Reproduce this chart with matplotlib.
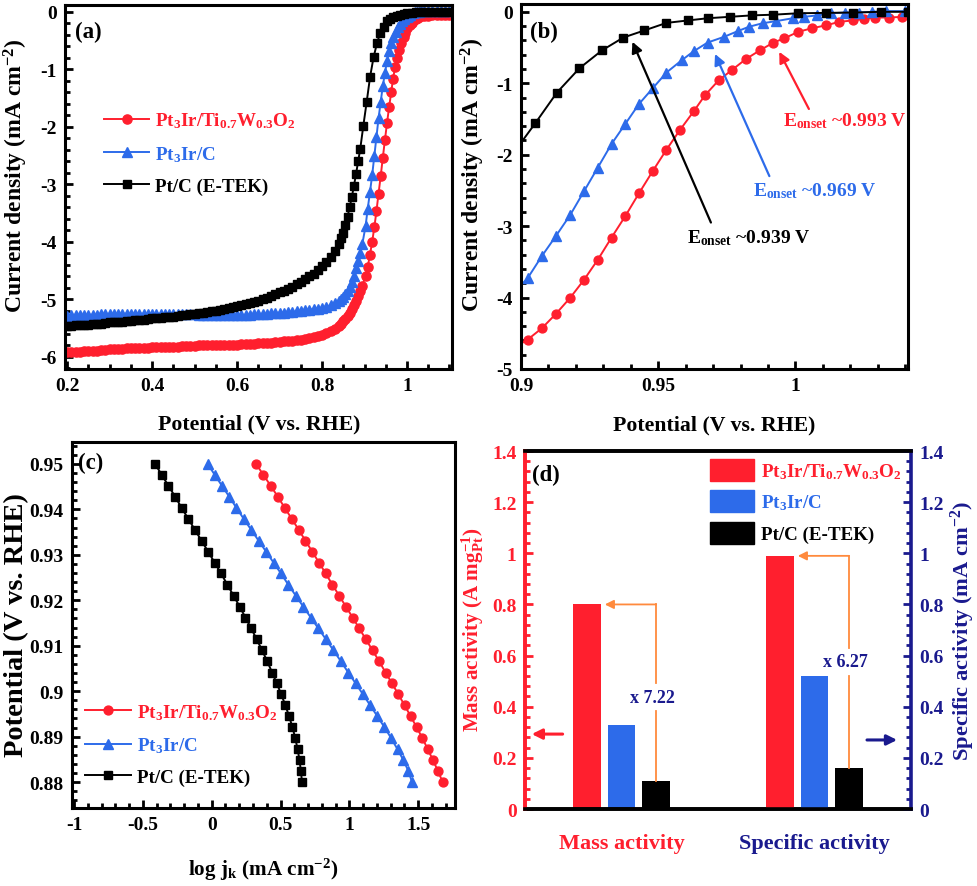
import matplotlib
matplotlib.use('Agg')
import matplotlib.pyplot as plt
from matplotlib.ticker import MultipleLocator, FuncFormatter
from matplotlib.patches import Patch

plt.rcParams.update({
    'font.family': ['Liberation Serif', 'DejaVu Serif'],
    'font.weight': 'bold',
    'axes.labelweight': 'bold',
    'mathtext.fontset': 'custom',
    'mathtext.rm': 'Liberation Serif:bold',
    'mathtext.it': 'Liberation Serif:bold',
    'mathtext.bf': 'Liberation Serif:bold',
    'axes.unicode_minus': False,
})

# ---------------- data ----------------
series_names = ['Pt$_3$Ir/Ti$_{0.7}$W$_{0.3}$O$_2$', 'Pt$_3$Ir/C', 'Pt/C (E-TEK)']

# LSV, low-potential region (shared potentials, V vs RHE)
E_low = [0.20, 0.21, 0.22, 0.23, 0.24, 0.25, 0.26, 0.27, 0.28, 0.29,
         0.30, 0.31, 0.32, 0.33, 0.34, 0.35, 0.36, 0.37, 0.38, 0.39,
         0.40, 0.41, 0.42, 0.43, 0.44, 0.45, 0.46, 0.47, 0.48, 0.49,
         0.50, 0.51, 0.52, 0.53, 0.54, 0.55, 0.56, 0.57, 0.58, 0.59,
         0.60, 0.61, 0.62, 0.63, 0.64, 0.65, 0.66, 0.67, 0.68, 0.69,
         0.70, 0.71, 0.72, 0.73, 0.74, 0.75, 0.76, 0.77, 0.78, 0.79,
         0.80, 0.81, 0.82, 0.83, 0.84, 0.845, 0.85, 0.855, 0.86, 0.865,
         0.87, 0.875, 0.88, 0.885, 0.89]
j_red_low = [-5.92, -5.92, -5.91, -5.91, -5.90, -5.90, -5.89, -5.89, -5.88, -5.88,
             -5.87, -5.87, -5.86, -5.86, -5.85, -5.85, -5.85, -5.84, -5.84, -5.84,
             -5.83, -5.83, -5.83, -5.82, -5.82, -5.82, -5.82, -5.81, -5.81, -5.81,
             -5.81, -5.80, -5.80, -5.80, -5.80, -5.80, -5.80, -5.79, -5.79, -5.79,
             -5.79, -5.78, -5.78, -5.77, -5.77, -5.76, -5.76, -5.75, -5.75, -5.74,
             -5.74, -5.73, -5.73, -5.72, -5.71, -5.70, -5.69, -5.68, -5.66, -5.64,
             -5.62, -5.59, -5.55, -5.51, -5.46, -5.42, -5.38, -5.34, -5.29, -5.23,
             -5.16, -5.09, -5.02, -4.94, -4.85]
j_blue_low = [-5.29, -5.28, -5.28, -5.28, -5.27, -5.27, -5.27, -5.27, -5.26, -5.26,
              -5.26, -5.26, -5.26, -5.25, -5.25, -5.25, -5.25, -5.25, -5.25, -5.25,
              -5.25, -5.25, -5.25, -5.25, -5.25, -5.26, -5.26, -5.26, -5.26, -5.26,
              -5.26, -5.27, -5.27, -5.27, -5.27, -5.28, -5.28, -5.28, -5.28, -5.28,
              -5.28, -5.28, -5.27, -5.27, -5.26, -5.26, -5.25, -5.25, -5.24, -5.24,
              -5.23, -5.23, -5.22, -5.22, -5.21, -5.20, -5.19, -5.18, -5.17, -5.16,
              -5.15, -5.13, -5.10, -5.07, -5.02, -4.99, -4.95, -4.91, -4.86, -4.79,
              -4.70, -4.59, -4.46, -4.33, -4.19]
j_black_low = [-5.46, -5.46, -5.45, -5.45, -5.44, -5.44, -5.43, -5.43, -5.42, -5.41,
               -5.40, -5.40, -5.39, -5.39, -5.38, -5.37, -5.36, -5.36, -5.35, -5.34,
               -5.33, -5.33, -5.32, -5.31, -5.30, -5.30, -5.29, -5.28, -5.27, -5.26,
               -5.25, -5.24, -5.23, -5.22, -5.21, -5.20, -5.18, -5.17, -5.15, -5.13,
               -5.11, -5.10, -5.08, -5.06, -5.04, -5.02, -4.99, -4.97, -4.94, -4.91,
               -4.88, -4.85, -4.82, -4.78, -4.74, -4.70, -4.65, -4.60, -4.55, -4.49,
               -4.42, -4.35, -4.26, -4.16, -4.03, -3.94, -3.84, -3.71, -3.56, -3.40,
               -3.22, -3.03, -2.82, -2.60, -2.38]

# LSV, onset region (as sampled in panel b)
E_red_mid = [0.895, 0.9024, 0.9076, 0.9127, 0.918, 0.923, 0.928, 0.933, 0.938, 0.943,
             0.948, 0.953, 0.958, 0.963, 0.967, 0.972, 0.977, 0.982, 0.987, 0.992,
             0.996, 1.001, 1.006, 1.011, 1.016, 1.021, 1.025, 1.029, 1.034, 1.039]
j_red_mid = [-4.76, -4.59, -4.43, -4.23, -4.00, -3.75, -3.47, -3.16, -2.86, -2.54,
             -2.23, -1.93, -1.65, -1.39, -1.17, -0.96, -0.81, -0.66, -0.54, -0.43,
             -0.37, -0.28, -0.23, -0.19, -0.14, -0.12, -0.10, -0.08, -0.08, -0.07]
E_blue_mid = [0.895, 0.9024, 0.9076, 0.9127, 0.918, 0.923, 0.928, 0.933, 0.938, 0.943,
              0.948, 0.953, 0.9585, 0.963, 0.968, 0.974, 0.979, 0.983, 0.988, 0.993,
              0.999, 1.003, 1.008, 1.013, 1.018, 1.023, 1.028, 1.033, 1.040]
j_blue_mid = [-4.03, -3.73, -3.42, -3.14, -2.84, -2.51, -2.18, -1.85, -1.57, -1.29,
              -1.07, -0.85, -0.68, -0.55, -0.43, -0.35, -0.27, -0.21, -0.16, -0.13,
              -0.09, -0.07, -0.05, -0.02, -0.01, -0.01, 0.00, 0.01, 0.01]
E_black_mid = [0.8972, 0.9052, 0.9131, 0.9213, 0.9295, 0.9373, 0.945, 0.953, 0.961,
               0.968, 0.976, 0.984, 0.992, 1.001, 1.011, 1.021, 1.031, 1.041]
j_black_mid = [-1.98, -1.56, -1.13, -0.79, -0.54, -0.36, -0.26, -0.155, -0.12,
               -0.09, -0.07, -0.05, -0.04, -0.02, -0.015, -0.01, 0.00, 0.00]

E_high = [1.05, 1.06, 1.07, 1.08, 1.09, 1.10]
j_red_high = [-0.07, -0.06, -0.06, -0.06, -0.06, -0.06]
j_blue_high = [0.01, 0.01, 0.01, 0.01, 0.01, 0.01]
j_black_high = [0.00, 0.00, 0.00, 0.00, 0.00, 0.00]

onset_labels = ['~0.993 V', '~0.969 V', '~0.939 V']

# Tafel (panel c)
tafel_E = [0.9500, 0.9476, 0.9452, 0.9428, 0.9403, 0.9379, 0.9355, 0.9331, 0.9307, 0.9283,
           0.9259, 0.9234, 0.9210, 0.9186, 0.9162, 0.9138, 0.9114, 0.9090, 0.9066, 0.9041,
           0.9017, 0.8993, 0.8969, 0.8945, 0.8921, 0.8897, 0.8872, 0.8848, 0.8824, 0.8800]
logjk_red = [0.322, 0.375, 0.428, 0.480, 0.531, 0.582, 0.632, 0.681, 0.730, 0.779,
             0.828, 0.877, 0.926, 0.975, 1.024, 1.072, 1.120, 1.168, 1.216, 1.263,
             1.310, 1.356, 1.401, 1.445, 1.488, 1.530, 1.570, 1.608, 1.644, 1.678]
logjk_blue = [-0.030, 0.022, 0.074, 0.127, 0.180, 0.233, 0.287, 0.341, 0.395, 0.449,
              0.503, 0.557, 0.611, 0.665, 0.720, 0.775, 0.830, 0.884, 0.938, 0.992,
              1.046, 1.099, 1.151, 1.203, 1.254, 1.303, 1.350, 1.393, 1.429, 1.455]
logjk_black = [-0.412, -0.363, -0.315, -0.266, -0.218, -0.170, -0.122, -0.074, -0.026, 0.021,
               0.068, 0.114, 0.159, 0.203, 0.245, 0.287, 0.327, 0.366, 0.403, 0.439,
               0.473, 0.505, 0.535, 0.562, 0.586, 0.607, 0.624, 0.638, 0.648, 0.656]

# Activities (panel d)
activity_groups = ['Mass activity', 'Specific activity']
mass_activity = [0.80, 0.33, 0.11]      # A mg_Pt^-1
specific_activity = [0.99, 0.52, 0.16]  # mA cm^-2
ratio_labels = ['x 7.22', 'x 6.27']

# ---------------- style ----------------
RED = '#FF1F2E'
BLUE = '#2D6BEA'
BLACK = '#000000'
NAVY = '#1A1A8E'
ORANGE = '#FF8A3D'
colors = [RED, BLUE, BLACK]
markers = ['o', '^', 's']
ms_a = [6.6, 7.4, 5.8]
ms_b = [6.4, 7.6, 5.4]

SPINE_LW = 2.2
TICK_FS = 14
XLABEL_FS = 15.7
YLABEL_FS = 17
LEG_FS = 13.7

fmt = FuncFormatter(lambda v, p: '%g' % round(v, 6))


def base_style(ax, xmaj, xmin, ymaj, ymin):
    for s in ax.spines.values():
        s.set_linewidth(SPINE_LW)
    ax.xaxis.set_major_locator(MultipleLocator(xmaj))
    ax.xaxis.set_minor_locator(MultipleLocator(xmin))
    ax.yaxis.set_major_locator(MultipleLocator(ymaj))
    ax.yaxis.set_minor_locator(MultipleLocator(ymin))
    ax.xaxis.set_major_formatter(fmt)
    ax.yaxis.set_major_formatter(fmt)
    ax.tick_params(which='both', direction='in', top=False, right=False,
                   labelsize=TICK_FS, width=2.0)
    ax.tick_params(which='major', length=6, pad=6)
    ax.tick_params(which='minor', length=3.5)


def place_labels(ax, xpos, ypos):
    ax.xaxis.set_label_coords(*xpos)
    ax.xaxis.label.set_verticalalignment('center')
    ax.yaxis.set_label_coords(*ypos)
    ax.yaxis.label.set_verticalalignment('center')


fig = plt.figure(figsize=(9.78, 8.87), dpi=100)

E_all = [E_low + E_red_mid + E_high,
         E_low + E_blue_mid + E_high,
         E_low + E_black_mid + E_high]
j_all = [j_red_low + j_red_mid + j_red_high,
         j_blue_low + j_blue_mid + j_blue_high,
         j_black_low + j_black_mid + j_black_high]

# ---------------- (a) ----------------
axa = fig.add_axes([0.0665, 0.5829, 0.3957, 0.4104])
for i in range(3):
    axa.plot(E_all[i], j_all[i], color=colors[i], marker=markers[i],
             markersize=ms_a[i], lw=1.4, label=series_names[i])
axa.set_xlim(0.195, 1.106)
axa.set_ylim(-6.21, 0.12)
base_style(axa, 0.2, 0.05, 1, 0.2)
axa.set_xlabel('Potential (V vs. RHE)', fontsize=XLABEL_FS)
axa.set_ylabel('Current density (mA cm$^{-2}$)', fontsize=YLABEL_FS)
place_labels(axa, (0.501, -0.151), (-0.127, 0.535))
axa.text(0.025, 0.955, '(a)', transform=axa.transAxes, fontsize=16.5, va='top', ha='left')
axa.legend(loc='upper left', bbox_to_anchor=(0.10, 0.71), frameon=False,
           fontsize=LEG_FS, handlelength=2.4, handletextpad=0.3, labelspacing=0.72,
           borderpad=0, borderaxespad=0, labelcolor='linecolor', numpoints=1)

# ---------------- (b) ----------------
axb = fig.add_axes([0.5327, 0.5829, 0.3957, 0.4115])
for i in range(3):
    axb.plot(E_all[i], j_all[i], color=colors[i], marker=markers[i],
             markersize=ms_b[i], lw=1.4)
axb.set_xlim(0.9, 1.041)
axb.set_ylim(-5.0, 0.11)
base_style(axb, 0.05, 0.01, 1, 0.2)
axb.set_xlabel('Potential (V vs. RHE)', fontsize=XLABEL_FS)
axb.set_ylabel('Current density (mA cm$^{-2}$)', fontsize=YLABEL_FS)
place_labels(axb, (0.499, -0.153), (-0.125, 0.535))
axb.text(0.023, 0.953, '(b)', transform=axb.transAxes, fontsize=16.5, va='top', ha='left')

onset_tips = [(0.9941, -0.56), (0.9707, -0.59), (0.9406, -0.42)]
onset_tails = [(1.0049, -1.36), (0.9905, -2.30), (0.9692, -2.95)]
onset_text = [(0.9956, -1.52), (0.9847, -2.49), (0.9606, -3.15)]
for i in range(3):
    axb.annotate('', xy=onset_tips[i], xytext=onset_tails[i],
                 arrowprops=dict(arrowstyle='-|>', color=colors[i], lw=1.6,
                                 mutation_scale=16, shrinkA=0, shrinkB=0))
    axb.text(onset_text[i][0], onset_text[i][1], 'E$_{\\rm onset}$ ' + onset_labels[i],
             color=colors[i], fontsize=14, ha='left', va='center')

# ---------------- (c) ----------------
axc = fig.add_axes([0.0736, 0.0879, 0.3916, 0.4126])
tafel_x = [logjk_red, logjk_blue, logjk_black]
for i in range(3):
    axc.plot(tafel_x[i], tafel_E, color=colors[i], marker=markers[i],
             markersize=ms_b[i], lw=1.4, label=series_names[i])
axc.set_xlim(-1.015, 1.767)
axc.set_ylim(0.8743, 0.9548)
base_style(axc, 0.5, 0.1, 0.01, 0.002)
axc.set_xlabel('log j$_{\\rm k}$ (mA cm$^{-2}$)', fontsize=15.2)
axc.set_ylabel('Potential (V vs. RHE)', fontsize=20.5)
place_labels(axc, (0.499, -0.167), (-0.144, 0.503))
axc.text(0.016, 0.973, '(c)', transform=axc.transAxes, fontsize=16.5, va='top', ha='left')
axc.legend(loc='upper left', bbox_to_anchor=(0.035, 0.29), frameon=False,
           fontsize=LEG_FS, handlelength=2.4, handletextpad=0.3, labelspacing=0.72,
           borderpad=0, borderaxespad=0, labelcolor='linecolor', numpoints=1)

# ---------------- (d) ----------------
axd = fig.add_axes([0.5368, 0.0868, 0.3947, 0.4036])
axd2 = axd.twinx()
bar_w = 0.145
offsets = [-0.179, 0.0, 0.179]
for i in range(3):
    axd.bar(0 + offsets[i], mass_activity[i], width=bar_w, color=colors[i],
            label=series_names[i])
    axd2.bar(1 + offsets[i], specific_activity[i], width=bar_w, color=colors[i])
for a in (axd, axd2):
    a.set_xlim(-0.5, 1.5)
    a.set_ylim(0, 1.4)
    a.yaxis.set_major_locator(MultipleLocator(0.2))
    a.yaxis.set_minor_locator(MultipleLocator(0.04))
    a.yaxis.set_major_formatter(fmt)
    for s in a.spines.values():
        s.set_linewidth(SPINE_LW + 0.4)
axd.spines['left'].set_color(RED)
axd.spines['right'].set_visible(False)
axd2.spines['left'].set_color(RED)
axd2.spines['right'].set_color(NAVY)
axd.tick_params(axis='y', which='both', direction='in', colors=RED, labelsize=TICK_FS,
                width=2.0)
axd.tick_params(axis='y', which='major', length=6, pad=6)
axd.tick_params(axis='y', which='minor', length=3.5)
axd2.tick_params(axis='y', which='both', direction='in', colors=NAVY, labelsize=TICK_FS,
                 width=2.0)
axd2.tick_params(axis='y', which='major', length=6, pad=6)
axd2.tick_params(axis='y', which='minor', length=3.5)
axd.set_xticks([0, 1])
axd.set_xticklabels(activity_groups, fontsize=16)
axd.tick_params(axis='x', length=0, pad=17)
axd.get_xticklabels()[0].set_color(RED)
axd.get_xticklabels()[1].set_color(NAVY)
axd.set_ylabel('Mass activity (A mg$_{\\rm Pt}^{-1}$)', fontsize=15.2, color=RED)
axd.yaxis.set_label_coords(-0.135, 0.503)
axd.yaxis.label.set_verticalalignment('center')
axd2.set_ylabel('Specific activity (mA cm$^{-2}$)', fontsize=16.2, color=NAVY)
axd2.yaxis.set_label_coords(1.135, 0.5)
axd2.yaxis.label.set_verticalalignment('center')
axd.text(0.018, 0.964, '(d)', transform=axd.transAxes, fontsize=16.5, va='top', ha='left')

handles = [Patch(color=c) for c in colors]
leg = axd2.legend(handles, series_names, loc='upper left', bbox_to_anchor=(0.48, 0.978),
                  frameon=False, fontsize=LEG_FS, handlelength=2.3, handleheight=1.4,
                  handletextpad=0.35, labelspacing=0.5, borderpad=0, borderaxespad=0)
for t, c in zip(leg.get_texts(), colors):
    t.set_color(c)

# enhancement arrows
groups_vals = [mass_activity, specific_activity]
ratio_y = [0.438, 0.575]
gap = 0.055
for g in range(2):
    vals = groups_vals[g]
    xb = g + offsets[2]
    xr = g + offsets[0] + bar_w / 2 + 0.02
    axd2.plot([xb, xb], [vals[2], ratio_y[g] - gap], color=ORANGE, lw=1.3)
    axd2.plot([xb, xb], [ratio_y[g] + gap, vals[0]], color=ORANGE, lw=1.3)
    axd2.annotate('', xy=(xr, vals[0]), xytext=(xb, vals[0]),
                  arrowprops=dict(arrowstyle='-|>', color=ORANGE, lw=1.3,
                                  mutation_scale=13, shrinkA=0, shrinkB=0))
    axd2.text(xb - 0.02, ratio_y[g], ratio_labels[g], color=NAVY, fontsize=13,
              ha='center', va='center')

# axis indicator arrows
axd2.annotate('', xy=(-0.465, 0.293), xytext=(-0.305, 0.293),
              arrowprops=dict(arrowstyle='-|>', color=RED, lw=2.2, mutation_scale=15,
                              shrinkA=0, shrinkB=0))
axd2.annotate('', xy=(1.428, 0.27), xytext=(1.272, 0.27),
              arrowprops=dict(arrowstyle='-|>', color=NAVY, lw=2.2, mutation_scale=15,
                              shrinkA=0, shrinkB=0))

fig.savefig('out.png', dpi=100)
